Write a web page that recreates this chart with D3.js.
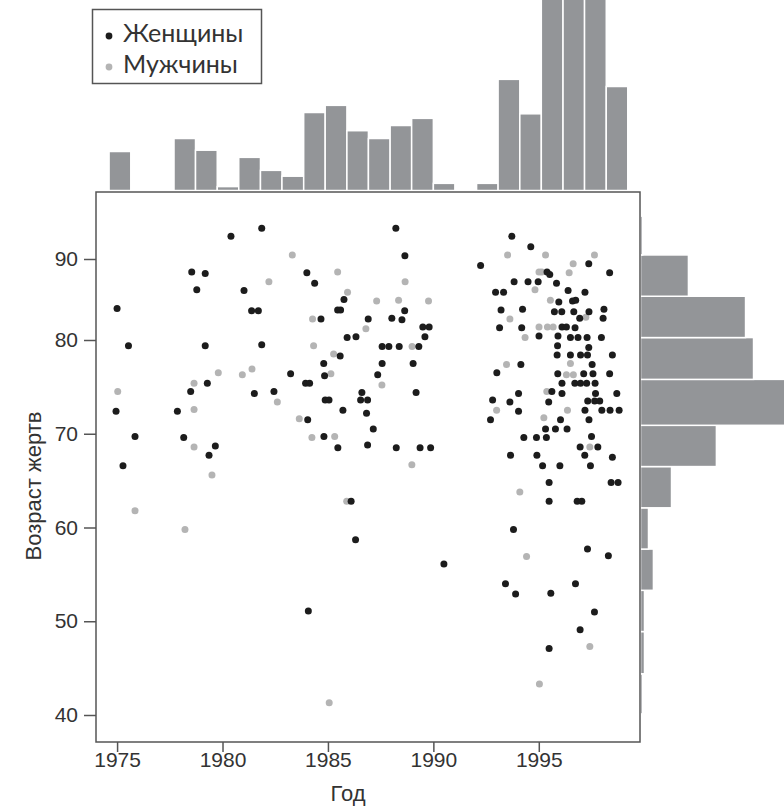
<!DOCTYPE html>
<html><head><meta charset="utf-8">
<script src="https://cdn.jsdelivr.net/npm/d3@7"></script>
<style>
html,body{margin:0;padding:0;background:#fff;}
svg text{font-family:"Liberation Sans",Arial,sans-serif;fill:#333;}
</style></head>
<body><svg id="chart" width="784" height="808"></svg>
<script>
// ---- data ----
const legendLabels = ["Женщины", "Мужчины"];
const xTickValues = [1975, 1980, 1985, 1990, 1995];
const yTickValues = [40, 50, 60, 70, 80, 90];
const xLabel = "Год";
const yLabel = "Возраст жертв";

// women: [year, age]
const women = [
[1981.86,93.8],[1980.40,92.8],[1978.54,88.4],[1979.18,88.2],[1978.78,86.2],[1981.02,86.1],[1975.0,83.9],
[1981.38,83.6],[1981.70,83.6],[1975.54,79.4],[1979.18,79.4],[1981.86,79.5],[1979.28,75.4],[1978.49,74.5],
[1981.51,74.3],[1982.44,74.5],[1974.95,72.4],[1977.86,72.4],[1975.85,69.7],[1978.16,69.6],[1979.66,68.7],
[1979.36,67.7],[1975.28,66.6],[1988.22,93.8],[1988.65,90.4],[1984.00,88.3],[1984.37,87.0],[1985.76,85.0],
[1985.46,83.7],[1985.60,83.7],[1988.64,83.6],[1984.67,82.6],[1986.91,82.6],[1988.03,82.7],[1988.51,82.5],
[1989.50,81.6],[1989.80,81.6],[1989.60,80.4],[1985.91,80.3],[1986.33,80.4],[1987.57,79.3],[1987.89,79.3],
[1988.38,79.3],[1989.31,79.3],[1985.58,78.3],[1984.80,77.5],[1987.57,77.5],[1989.04,77.5],[1983.23,76.4],
[1984.84,76.2],[1987.36,76.3],[1983.94,75.4],[1984.13,75.4],[1986.61,74.4],[1989.18,74.4],[1984.87,73.6],
[1985.05,73.6],[1986.55,73.6],[1986.88,73.6],[1985.71,72.5],[1986.83,72.2],[1984.04,71.5],[1987.15,70.5],
[1984.81,69.7],[1985.47,68.5],[1986.88,68.8],[1988.24,68.5],[1989.37,68.5],[1989.87,68.5],
[1993.72,92.8],[1994.62,91.5],[1992.24,89.2],[1997.37,89.4],[1995.39,88.4],[1995.52,88.1],[1998.36,88.3],
[1993.83,87.2],[1994.49,87.2],[1994.97,87.2],[1995.84,87.0],[1992.95,85.9],[1993.33,85.9],[1996.39,86.1],
[1997.19,85.9],[1995.95,84.7],[1996.60,84.8],[1996.75,84.9],[1993.21,83.7],[1994.23,83.8],[1995.74,83.5],
[1996.09,83.5],[1996.66,83.5],[1997.38,83.5],[1998.09,83.8],[1996.94,82.7],[1998.05,82.7],[1993.14,81.5],
[1994.19,81.5],[1996.10,81.6],[1996.31,81.6],[1996.72,81.5],[1995.01,80.5],[1995.91,80.5],[1996.50,80.3],
[1996.86,80.3],[1997.29,80.3],[1997.97,80.3],[1995.89,79.4],[1997.37,79.2],[1995.87,78.4],[1996.50,78.4],
[1996.98,78.4],[1997.31,78.4],[1998.49,78.4],[1994.15,77.4],[1997.53,77.4],[1993.01,76.5],[1995.90,76.4],
[1997.13,76.4],[1997.57,76.4],[1998.36,76.4],[1996.10,75.4],[1996.71,75.4],[1996.98,75.4],[1997.27,75.4],
[1997.67,75.4],[1994.04,74.3],[1995.62,74.5],[1996.10,74.3],[1997.69,74.3],[1998.70,74.3],[1992.81,73.6],
[1993.63,73.4],[1995.47,73.4],[1997.32,73.5],[1997.65,73.5],[1997.89,73.5],[1994.04,72.4],[1997.19,72.5],
[1997.99,72.5],[1998.38,72.5],[1998.81,72.5],[1992.71,71.5],[1996.03,71.5],[1997.38,71.5],[1995.32,70.5],
[1995.79,70.5],[1996.34,70.5],[1994.29,69.6],[1994.89,69.6],[1995.36,69.6],[1997.50,69.7],[1996.96,68.6],
[1997.80,68.6],[1993.66,67.7],[1994.91,67.7],[1997.18,67.7],[1998.49,67.5],[1995.18,66.6],[1996.00,66.6],
[1997.45,66.6],[1986.10,62.8],[1986.31,58.7],[1984.07,51.1],[1995.49,64.8],[1998.43,64.8],[1998.76,64.8],
[1995.49,62.8],[1996.82,62.8],[1997.04,62.8],[1993.80,59.8],[1997.31,57.7],[1998.30,57.0],[1990.50,56.1],
[1993.42,54.0],[1996.74,54.0],[1993.90,52.9],[1995.57,53.0],[1997.64,51.0],[1996.96,49.1],[1995.49,47.1]
];

// men: [year, age]
const men = [
[1982.20,87.2],[1979.80,76.5],[1980.94,76.3],[1981.40,76.9],[1978.65,75.4],[1975.03,74.5],[1982.60,73.4],
[1978.65,72.6],[1978.65,68.6],[1983.31,90.5],[1985.46,88.4],[1988.66,87.2],[1985.93,85.9],[1987.31,84.8],
[1988.35,84.9],[1989.77,84.8],[1984.27,82.6],[1986.80,81.4],[1984.32,79.4],[1988.99,79.3],[1985.27,78.5],
[1985.14,76.4],[1987.56,75.2],[1983.64,71.6],[1984.24,69.6],[1985.32,69.7],[1988.98,66.7],[1993.52,90.5],
[1995.32,90.5],[1997.64,90.5],[1996.63,89.4],[1995.01,88.4],[1995.14,88.4],[1996.44,88.3],[1994.82,86.2],
[1995.55,84.9],[1993.63,82.6],[1997.23,82.8],[1995.01,81.6],[1995.41,81.6],[1995.68,81.6],[1994.35,80.3],
[1993.47,77.4],[1996.50,77.5],[1996.31,76.3],[1996.64,76.3],[1995.38,74.5],[1993.00,72.5],[1996.36,72.5],
[1995.24,71.7],[1997.42,68.6],[1979.50,65.6],[1975.85,61.8],[1978.22,59.8],[1985.89,62.8],[1985.06,41.3],
[1994.10,63.8],[1994.42,56.9],[1997.42,47.3],[1995.03,43.3]
];

// top histogram (by year)
const yearBinEdges = [1974.62,1975.65,1976.67,1977.70,1978.72,1979.75,1980.77,1981.80,1982.82,1983.85,1984.87,
  1985.90,1986.92,1987.95,1988.97,1990.00,1991.02,1992.05,1993.07,1994.10,1995.12,1996.15,1997.17,1998.20,1999.22];
const yearCounts = [6,0,0,8,6.2,0.6,5.1,3.1,2.2,12,13.1,9.2,8,10,11.1,1.1,0,1.1,17.1,11.8,32,34,33,16];

// right histogram (by age)
const ageBinEdges = [40.1,44.4,48.9,53.3,57.7,62.1,66.5,70.9,75.8,80.3,85.4,90.5,95.3];
const ageCounts = [0.9,1.7,1.7,5.5,3.4,13.2,32.3,65,48.1,44.7,20.4,0.9];

// ---- layout ----
const svg = d3.select("#chart");
const L = 96, R = 640, T = 192, B = 742;
const x = d3.scaleLinear().domain([1974, 1999.8]).range([L, R]);
const y = d3.scaleLinear().domain([40, 80, 90]).range([715, 340, 259]);
const barGrey = "#939598";

svg.append("rect").attr("width",784).attr("height",808).attr("fill","#fff");

// top histogram
const hTop = d3.scaleLinear().domain([0, 1]).range([0, 6.5]);
const topBase = 190.5;
svg.append("g").selectAll("rect").data(yearCounts).join("rect")
  .attr("x", (d,i) => x(yearBinEdges[i]))
  .attr("width", (d,i) => x(yearBinEdges[i+1]) - x(yearBinEdges[i]))
  .attr("y", d => topBase - hTop(d))
  .attr("height", d => hTop(d))
  .attr("fill", barGrey).attr("stroke","#fff").attr("stroke-width",1.5)
  .style("display", d => d > 0 ? null : "none");

// right histogram
const wRight = d3.scaleLinear().domain([0, 1]).range([0, 2.35]);
const rightBase = 640.5;
svg.append("g").selectAll("rect").data(ageCounts).join("rect")
  .attr("x", rightBase)
  .attr("y", (d,i) => y(ageBinEdges[i+1]))
  .attr("height", (d,i) => y(ageBinEdges[i]) - y(ageBinEdges[i+1]))
  .attr("width", d => wRight(d))
  .attr("fill", barGrey).attr("stroke","#fff").attr("stroke-width",1.5);

// plot frame
svg.append("rect").attr("x",L).attr("y",T).attr("width",R-L).attr("height",B-T)
  .attr("fill","#fff").attr("stroke","#555").attr("stroke-width",1.5);

// points
svg.append("g").selectAll("circle").data(men).join("circle")
  .attr("cx", d => x(d[0])).attr("cy", d => y(d[1])).attr("r", 3.5).attr("fill", "#b4b4b4");
svg.append("g").selectAll("circle").data(women).join("circle")
  .attr("cx", d => x(d[0])).attr("cy", d => y(d[1])).attr("r", 3.5).attr("fill", "#1c1c1c");

// axes
const gx = svg.append("g").attr("transform", `translate(0,${B})`)
  .call(d3.axisBottom(x).tickValues(xTickValues).tickFormat(d3.format("d")).tickSize(10).tickPadding(0));
const gy = svg.append("g").attr("transform", `translate(${L},0)`)
  .call(d3.axisLeft(y).tickValues(yTickValues).tickSize(12).tickPadding(6));
[gx, gy].forEach(g => {
  g.select(".domain").remove();
  g.selectAll(".tick line").attr("stroke","#555").attr("stroke-width",1.5);
  g.selectAll(".tick text").attr("font-size", 21).attr("fill","#333")
    .style("font-family", '"Liberation Sans", Arial, sans-serif');
});

// axis titles
svg.append("text").attr("x", 348).attr("y", 801).attr("text-anchor","middle")
  .attr("font-size", 22).text(xLabel);
svg.append("text").attr("transform","translate(41,486) rotate(-90)").attr("text-anchor","middle")
  .attr("font-size", 22).text(yLabel);

// legend
const lg = svg.append("g");
lg.append("rect").attr("x",92.5).attr("y",9.5).attr("width",169).attr("height",74)
  .attr("fill","#fff").attr("stroke","#555").attr("stroke-width",1.5);
const legendColors = ["#1c1c1c", "#b4b4b4"];
legendLabels.forEach((lab, i) => {
  lg.append("circle").attr("cx",109).attr("cy",36 + i*31).attr("r",3.4).attr("fill",legendColors[i]);
  lg.append("text").attr("x",123).attr("y",42 + i*31).attr("font-size",25)
    .style("font-family",'Lato, "Open Sans", sans-serif').attr("fill","#333").text(lab);
});
</script></body></html>
